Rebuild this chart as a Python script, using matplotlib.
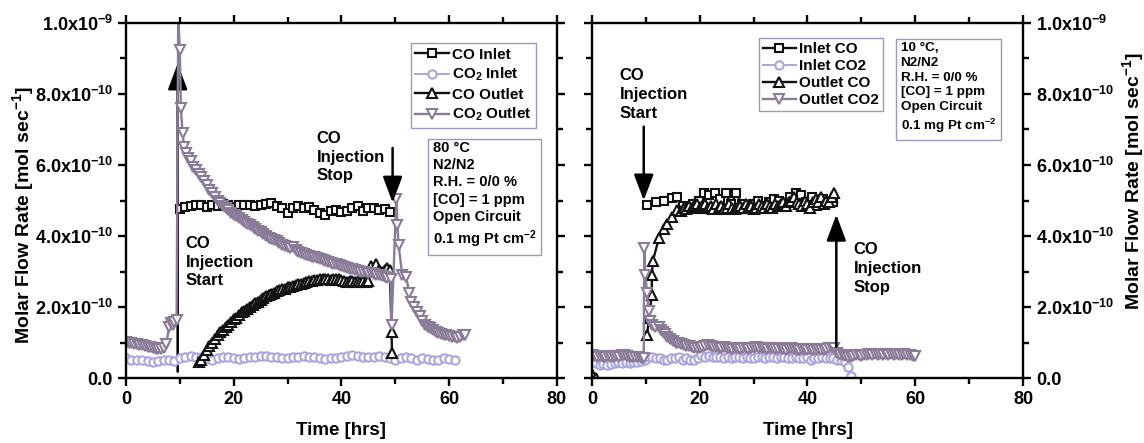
import numpy as np
import matplotlib
matplotlib.use("Agg")
import matplotlib.pyplot as plt
from matplotlib.ticker import FixedLocator, MultipleLocator

plt.rcParams['font.family'] = ['Liberation Sans', 'DejaVu Sans']
plt.rcParams['font.weight'] = 'bold'
plt.rcParams['mathtext.fontset'] = 'custom'
plt.rcParams['mathtext.rm'] = 'Liberation Sans:bold'
plt.rcParams['mathtext.it'] = 'Liberation Sans:bold'
plt.rcParams['mathtext.bf'] = 'Liberation Sans:bold'

SCALE = 1e-10  # values below are in units of 1e-10 mol/s

# ---------------- Left panel (80 °C) ----------------
L_co_in_x = [10.0, 11.0, 12.0, 13.0, 14.0, 15.0, 16.0, 17.0, 18.0, 19.0, 20.0, 21.0, 22.0, 23.0, 24.0,
             25.0, 26.0, 27.0, 28.0, 29.0, 30.0, 31.0, 32.0, 33.0, 34.0, 35.0, 36.0, 37.0, 38.0, 39.0,
             40.0, 41.0, 42.0, 43.0, 44.0, 45.0, 46.0, 47.0, 48.0, 49.0]
L_co_in_y = [4.75, 4.82, 4.85, 4.88, 4.86, 4.83, 4.88, 4.85, 4.90, 4.86, 4.82, 4.88, 4.86, 4.88, 4.85,
             4.87, 4.90, 4.93, 4.85, 4.80, 4.65, 4.80, 4.85, 4.80, 4.82, 4.72, 4.65, 4.58, 4.70, 4.72,
             4.68, 4.70, 4.78, 4.85, 4.70, 4.78, 4.80, 4.72, 4.75, 4.68]

L_co2_in_x = [0, 1, 2, 3, 4, 5, 6, 7, 8, 9, 10, 11, 12, 13, 14, 15, 16, 17, 18, 19, 20, 21, 22, 23, 24,
              25, 26, 27, 28, 29, 30, 31, 32, 33, 34, 35, 36, 37, 38, 39, 40, 41, 42, 43, 44, 45, 46,
              47, 48, 49, 50, 51, 52, 53, 54, 55, 56, 57, 58, 59, 60, 61]
L_co2_in_y = [0.55, 0.52, 0.50, 0.50, 0.47, 0.45, 0.48, 0.52, 0.50, 0.48, 0.55, 0.60, 0.62, 0.60, 0.58,
              0.55, 0.52, 0.55, 0.60, 0.58, 0.55, 0.53, 0.55, 0.58, 0.60, 0.62, 0.63, 0.60, 0.58, 0.55,
              0.57, 0.60, 0.58, 0.62, 0.60, 0.58, 0.55, 0.53, 0.55, 0.57, 0.60, 0.62, 0.65, 0.62, 0.60,
              0.58, 0.60, 0.62, 0.58, 0.55, 0.50, 0.55, 0.58, 0.55, 0.52, 0.55, 0.53, 0.50, 0.52, 0.55,
              0.53, 0.52]

L_co_out_x = [13.5, 14.0, 14.5, 15.0, 15.5, 16.0, 16.5, 17.0, 17.5, 18.0, 18.5, 19.0, 19.5, 20.0, 20.5,
              21.0, 21.5, 22.0, 22.5, 23.0, 23.5, 24.0, 24.5, 25.0, 25.5, 26.0, 26.5, 27.0, 27.5, 28.0,
              28.5, 29.0, 29.5, 30.0, 30.5, 31.0, 31.5, 32.0, 32.5, 33.0, 33.5, 34.0, 34.5, 35.0, 35.5,
              36.0, 36.5, 37.0, 37.5, 38.0, 38.5, 39.0, 39.5, 40.0, 40.5, 41.0, 41.5, 42.0, 42.5, 43.0,
              43.5, 44.0, 44.5, 45.0, 45.5, 46.0, 46.5, 47.0, 47.5, 48.0, 48.5, 49.0, 49.3, 49.4]
L_co_out_y = [0.45, 0.50, 0.65, 0.80, 0.90, 1.00, 1.10, 1.20, 1.30, 1.35, 1.45, 1.50, 1.58, 1.65, 1.70,
              1.78, 1.85, 1.90, 1.95, 2.00, 2.05, 2.10, 2.15, 2.20, 2.25, 2.30, 2.35, 2.38, 2.40, 2.45,
              2.48, 2.50, 2.52, 2.55, 2.57, 2.60, 2.62, 2.64, 2.66, 2.68, 2.70, 2.72, 2.73, 2.75, 2.76,
              2.78, 2.80, 2.80, 2.78, 2.75, 2.78, 2.80, 2.78, 2.75, 2.72, 2.70, 2.72, 2.72, 2.70, 2.72,
              2.70, 2.72, 2.70, 2.72, 3.15, 3.10, 3.20, 3.05, 3.00, 3.05, 3.10, 3.05, 1.30, 0.70]

L_co2_out_x = [0.0, 0.5, 1.0, 1.5, 2.0, 2.5, 3.0, 3.5, 4.0, 4.5, 5.0, 5.5, 6.0, 6.5, 7.0, 7.5, 8.0, 8.3,
               8.7, 9.0, 9.4, 9.7, 10.0, 10.2, 10.5, 10.8, 11.2, 11.6, 12.0, 12.5, 13.0, 13.5, 14.0,
               14.5, 15.0, 15.5, 16.0, 16.5, 17.0, 17.5, 18.0, 18.5, 19.0, 19.5, 20.0, 20.5, 21.0,
               21.5, 22.0, 22.5, 23.0, 23.5, 24.0, 24.5, 25.0, 25.5, 26.0, 26.5, 27.0, 27.5, 28.0,
               28.5, 29.0, 29.5, 30.0, 30.5, 31.0, 31.5, 32.0, 32.5, 33.0, 33.5, 34.0, 34.5, 35.0,
               35.5, 36.0, 36.5, 37.0, 37.5, 38.0, 38.5, 39.0, 39.5, 40.0, 40.5, 41.0, 41.5, 42.0,
               42.5, 43.0, 43.5, 44.0, 44.5, 45.0, 45.5, 46.0, 46.5, 47.0, 47.5, 48.0, 48.5, 49.2,
               49.3, 50.2, 50.4, 50.6, 51.3, 52.0, 52.6, 53.0, 53.5, 54.0, 54.5, 55.0, 55.5, 56.0,
               56.5, 57.0, 57.5, 58.0, 58.5, 59.0, 59.5, 60.0, 60.5, 61.0, 61.5, 62.0, 62.5, 63.0]
L_co2_out_y = [1.02, 1.00, 0.98, 0.96, 0.95, 0.93, 0.92, 0.90, 0.88, 0.86, 0.84, 0.83, 0.82, 0.82, 0.84,
               0.95, 1.45, 1.55, 1.50, 1.58, 1.62, 10.2, 9.25, 7.6, 6.9, 6.5, 6.35, 6.2, 6.1, 5.95,
               5.85, 5.75, 5.65, 5.55, 5.45, 5.3, 5.2, 5.1, 5.0, 4.92, 4.85, 4.78, 4.72, 4.65, 4.6,
               4.55, 4.5, 4.45, 4.4, 4.35, 4.3, 4.25, 4.2, 4.15, 4.1, 4.05, 4.0, 3.95, 3.92, 3.88,
               3.85, 3.8, 3.75, 3.72, 3.68, 3.65, 3.7, 3.6, 3.55, 3.52, 3.5, 3.47, 3.45, 3.42, 3.4,
               3.37, 3.35, 3.32, 3.3, 3.27, 3.25, 3.22, 3.2, 3.18, 3.15, 3.12, 3.1, 3.08, 3.06, 3.04,
               3.02, 3.0, 2.99, 2.98, 2.97, 2.95, 2.93, 2.91, 2.9, 2.88, 2.85, 2.83, 2.8,
               1.50, 5.05, 4.3, 3.75, 2.9, 2.85, 2.4, 2.15, 2.0, 1.85, 1.75, 1.6, 1.5, 1.45,
               1.4, 1.35, 1.3, 1.28, 1.25, 1.22, 1.2, 1.18, 1.15, 1.15, 1.12, 1.15, 1.2, 1.22]

# ---------------- Right panel (10 °C) ----------------
R_co_in_x = [10.2, 11.8, 13.3, 14.8, 15.8, 16.8, 17.8, 18.8, 19.8, 20.8, 21.8, 22.8, 23.8, 24.8, 25.8,
             26.8, 27.8, 28.8, 29.8, 30.8, 31.8, 32.8, 33.8, 34.8, 35.8, 36.8, 37.8, 38.8, 39.8, 40.8,
             41.8, 42.8, 43.8, 44.8]
R_co_in_y = [4.87, 4.97, 5.0, 5.06, 5.1, 4.85, 4.8, 4.9, 5.0, 5.2, 5.15, 5.2, 5.05, 5.2,
             4.9, 5.2, 4.9, 4.75, 4.9, 5.0, 4.85, 4.95, 5.05, 5.0, 4.9, 5.1, 5.2, 5.15, 4.95,
             5.1, 4.85, 5.05, 4.95, 4.95]

R_co2_in_x = [0.0, 0.7, 1.4, 2.1, 2.8, 3.5, 4.2, 4.9, 5.6, 6.3, 7.0, 7.7, 8.4, 9.1, 9.8, 10.5, 11.2,
              11.9, 12.6, 13.3, 14.0, 14.7, 15.4, 16.1, 16.8, 17.5, 18.2, 18.9, 19.6, 20.3, 21.0,
              21.7, 22.4, 23.1, 23.8, 24.5, 25.2, 25.9, 26.6, 27.3, 28.0, 28.7, 29.4, 30.1, 30.8,
              31.5, 32.2, 32.9, 33.6, 34.3, 35.0, 35.7, 36.4, 37.1, 37.8, 38.5, 39.2, 39.9, 40.6,
              41.3, 42.0, 42.7, 43.4, 44.1, 44.8, 45.5, 46.2, 46.9, 47.6, 48.0]
R_co2_in_y = [0.55, 0.42, 0.38, 0.40, 0.38, 0.40, 0.42, 0.45, 0.42, 0.45, 0.43, 0.45, 0.45, 0.48, 0.50,
              0.60, 0.58, 0.55, 0.55, 0.52, 0.52, 0.55, 0.55, 0.60, 0.52, 0.55, 0.50, 0.52, 0.55, 0.65,
              0.60, 0.62, 0.58, 0.60, 0.58, 0.55, 0.58, 0.55, 0.58, 0.60, 0.55, 0.58, 0.55, 0.55, 0.60,
              0.58, 0.55, 0.60, 0.58, 0.55, 0.58, 0.60, 0.55, 0.55, 0.58, 0.55, 0.55, 0.58, 0.52, 0.55,
              0.55, 0.58, 0.55, 0.55, 0.55, 0.50, 0.50, 0.45, 0.30, 0.05]

R_co_out_x = [0.0, 0.8, np.nan, 10.2, 10.6, 11.1, 11.1, 11.3, 12.4, 13.3, 14.0, 14.8, 15.8,
              16.5, 17.0, 17.5, 18.0, 18.5, 19.0, 19.5, 20.0, 20.5, 21.0, 21.5, 22.0,
              22.5, 23.0, 23.5, 24.0, 24.5, 25.0, 25.5, 26.0, 26.5, 27.0, 27.5, 28.0, 28.5, 29.0,
              29.5, 30.0, 30.5, 31.0, 31.5, 32.0, 32.5, 33.0, 33.5, 34.0, 34.5, 35.0, 35.5, 36.0,
              36.5, 37.0, 37.5, 38.0, 38.5, 39.0, 39.5, 40.0, 40.5, 41.0, 41.5, 42.0, 42.5, 43.0,
              43.5, 44.0, 44.5, 44.9]
R_co_out_y = [0.12, 0.0, np.nan, 1.2, 1.7, 2.35, 2.9, 3.3, 3.93, 4.2, 4.35, 4.54, 4.73,
              4.7, 4.8, 4.75, 4.85, 4.8, 4.85, 4.9, 4.8, 4.85, 4.9, 4.8, 4.85,
              4.75, 4.9, 4.8, 4.85, 4.75, 4.8, 4.9, 4.8, 4.75, 4.8, 4.85, 4.8, 4.9, 4.8,
              4.85, 4.75, 4.8, 4.9, 4.85, 4.8, 4.9, 4.85, 4.8, 4.9, 4.85, 4.9, 4.95, 4.85,
              4.95, 5.0, 5.1, 4.95, 4.9, 4.85, 5.0, 4.9, 4.8, 4.95, 5.05, 4.95, 5.1, 4.9,
              5.0, 4.95, 5.1, 5.2]

R_co2_out_x = [0.0, 0.5, 1.0, 1.5, 2.0, 2.5, 3.0, 3.5, 4.0, 4.5, 5.0, 5.5, 6.0, 6.5, 7.0, 7.5, 8.0,
               8.5, 9.0, 9.5, 9.6, 9.7, 9.9, 10.2, 10.5, 10.8, 11.2, 11.7, 12.4, 12.8, 13.2, 13.6,
               14.0, 14.5, 15.0, 15.5, 16.0, 16.5, 17.0, 17.5, 18.0, 18.5, 19.0, 19.5, 20.0, 20.5,
               21.0, 21.5, 22.0, 22.5, 23.0, 23.5, 24.0, 24.5, 25.0, 25.5, 26.0, 26.5, 27.0, 27.5,
               28.0, 28.5, 29.0, 29.5, 30.0, 30.5, 31.0, 31.5, 32.0, 32.5, 33.0, 33.5, 34.0, 34.5,
               35.0, 35.5, 36.0, 36.5, 37.0, 37.5, 38.0, 38.5, 39.0, 39.5, 40.0, 40.5, 41.0, 41.5,
               42.0, 42.5, 43.0, 43.5, 44.0, 44.5, 45.0, 45.5, 46.0, 46.5, 47.0, 47.5, 48.0, 48.5,
               49.0, 49.5, 50.0, 50.5, 51.0, 51.5, 52.0, 52.5, 53.0, 53.5, 54.0, 54.5, 55.0, 55.5,
               56.0, 56.5, 57.0, 57.5, 58.0, 58.5, 59.0, 59.5, 60.0]
R_co2_out_y = [0.65, 0.62, 0.60, 0.62, 0.60, 0.60, 0.62, 0.60, 0.60, 0.62, 0.60, 0.65, 0.65, 0.62, 0.60,
               0.60, 0.60, 0.58, 0.55, 0.55, 0.55, 3.65, 2.9, 2.4, 1.9, 1.6, 1.5, 1.45, 1.45, 1.35,
               1.3, 1.25, 1.15, 1.1, 1.05, 1.0, 0.98, 0.95, 0.92, 0.9, 0.9, 0.88, 0.85, 0.85, 0.85,
               0.88, 0.9, 0.92, 0.9, 0.88, 0.88, 0.85, 0.85, 0.88, 0.85, 0.85, 0.82, 0.85, 0.85, 0.82,
               0.85, 0.85, 0.82, 0.85, 0.85, 0.88, 0.85, 0.85, 0.85, 0.82, 0.85, 0.85, 0.82, 0.82,
               0.85, 0.82, 0.8, 0.82, 0.85, 0.82, 0.8, 0.8, 0.82, 0.8, 0.8, 0.82, 0.8, 0.8,
               0.82, 0.8, 0.8, 0.82, 0.85, 0.85, 0.85, 0.7, 0.65, 0.65, 0.62, 0.6, 0.6, 0.62,
               0.65, 0.65, 0.62, 0.65, 0.65, 0.68, 0.65, 0.68, 0.65, 0.68, 0.65, 0.68, 0.65, 0.68,
               0.65, 0.68, 0.65, 0.65, 0.68, 0.65, 0.65, 0.62, 0.62]

y_ticks = [0, 2, 4, 6, 8, 10]
y_tick_labels = ['0.0', '2.0x10$^{-10}$', '4.0x10$^{-10}$', '6.0x10$^{-10}$', '8.0x10$^{-10}$', '1.0x10$^{-9}$']
x_ticks = [0, 20, 40, 60, 80]

left_labels = ['CO Inlet', 'CO$_2$ Inlet', 'CO Outlet', 'CO$_2$ Outlet']
right_labels = ['Inlet CO', 'Inlet CO2', 'Outlet CO', 'Outlet CO2']
left_info = '80 °C\nN2/N2\nR.H. = 0/0 %\n[CO] = 1 ppm\nOpen Circuit\n0.1 mg Pt cm$^{-2}$'
right_info = '10 °C,\nN2/N2\nR.H. = 0/0 %\n[CO] = 1 ppm\nOpen Circuit\n0.1 mg Pt cm$^{-2}$'
anno_start = 'CO\nInjection\nStart'
anno_stop = 'CO\nInjection\nStop'
ylab = 'Molar Flow Rate [mol sec$^{-1}$]'

C_BLACK = '#111111'
C_CO2_IN = '#aaa6dc'
C_CO2_OUT = '#8a7b98'
LEG_EDGE = '#9a9ac0'

fig = plt.figure(figsize=(11.44, 4.43), dpi=100)
axL = fig.add_axes([0.1101, 0.1467, 0.3767, 0.8014])
axR = fig.add_axes([0.5175, 0.1467, 0.3767, 0.8014])

def sc(v):
    return [a * SCALE for a in v]

def draw_series(ax, series, labels):
    handles = []
    styles = [dict(color=C_BLACK, marker='s', ms=6, lw=1.7),
              dict(color=C_CO2_IN, marker='o', ms=6, lw=1.4),
              dict(color=C_BLACK, marker='^', ms=7, lw=1.7),
              dict(color=C_CO2_OUT, marker='v', ms=7, lw=1.7)]
    for (xs, ys), st, lab in zip(series, styles, labels):
        h, = ax.plot(xs, sc(ys), linestyle='-', lw=st['lw'], color=st['color'], marker=st['marker'],
                     ms=st['ms'], mfc='white', mec=st['color'], mew=1.5, label=lab)
        handles.append(h)
    return handles

def style_axes(ax, side):
    ax.set_xlim(0, 80)
    ax.set_ylim(0, 1.0e-9)
    for sp in ax.spines.values():
        sp.set_linewidth(1.7)
        sp.set_color('black')
    ax.xaxis.set_major_locator(FixedLocator(x_ticks))
    ax.xaxis.set_minor_locator(MultipleLocator(10))
    ax.yaxis.set_major_locator(FixedLocator([v * SCALE for v in y_ticks]))
    ax.yaxis.set_minor_locator(MultipleLocator(1e-10))
    ax.set_xticklabels([str(v) for v in x_ticks])
    ax.tick_params(which='both', direction='out', top=True, right=True, left=True, bottom=True,
                   width=1.7, labelsize=13, color='black')
    ax.tick_params(which='major', length=6)
    ax.tick_params(which='minor', length=4)
    ax.set_xlabel('Time [hrs]', fontsize=13.5, fontweight='bold', labelpad=10)
    if side == 'left':
        ax.set_yticklabels(y_tick_labels)
        ax.set_ylabel(ylab, fontsize=14, fontweight='bold')
        ax.yaxis.label.set_va('center')
        ax.yaxis.set_label_coords(-0.238, 0.46)
    else:
        ax.yaxis.tick_right()
        ax.tick_params(which='both', left=True, right=True, direction='out')
        ax.yaxis.set_label_position('right')
        ax.set_yticklabels(y_tick_labels)
        ax.set_ylabel(ylab, fontsize=14, fontweight='bold')
        ax.yaxis.label.set_va('center')
        ax.yaxis.set_label_coords(1.255, 0.555)
    for lab in ax.get_xticklabels() + ax.get_yticklabels():
        lab.set_fontweight('bold')

arrow_kw = dict(arrowstyle='-|>,head_length=0.8,head_width=0.3', color='black', lw=1.8,
                mutation_scale=20, shrinkA=0, shrinkB=0)

# ----- left -----
hL = draw_series(axL, [(L_co_in_x, L_co_in_y), (L_co2_in_x, L_co2_in_y),
                       (L_co_out_x, L_co_out_y), (L_co2_out_x, L_co2_out_y)], left_labels)
style_axes(axL, 'left')
axL.annotate('', xy=(9.6, 8.86e-10), xytext=(9.6, 0.18e-10), arrowprops=arrow_kw, zorder=1)
axL.annotate('', xy=(49.5, 4.94e-10), xytext=(49.5, 6.48e-10), arrowprops=arrow_kw, zorder=5)
axL.text(11.1, 4.0e-10, anno_start, fontsize=12, fontweight='bold', va='top', ha='left', linespacing=1.3)
axL.text(35.4, 6.95e-10, anno_stop, fontsize=12, fontweight='bold', va='top', ha='left', linespacing=1.3)
legL = axL.legend(handles=hL, loc='upper left', bbox_to_anchor=(0.661, 0.943), fontsize=11,
                  frameon=True, fancybox=False, edgecolor=LEG_EDGE, framealpha=1, borderpad=0.3,
                  handlelength=2.2, handletextpad=0.2, labelspacing=0.28, borderaxespad=0)
legL.get_frame().set_linewidth(1.0)
for t in legL.get_texts():
    t.set_fontweight('bold')
axL.text(0.712, 0.668, left_info, transform=axL.transAxes, fontsize=10.5, fontweight='bold',
         va='top', ha='left', linespacing=1.3,
         bbox=dict(boxstyle='square,pad=0.35', fc='white', ec=LEG_EDGE, lw=1.0))

# ----- right -----
hR = draw_series(axR, [(R_co_in_x, R_co_in_y), (R_co2_in_x, R_co2_in_y),
                       (R_co_out_x, R_co_out_y), (R_co2_out_x, R_co2_out_y)], right_labels)
style_axes(axR, 'right')
axR.annotate('', xy=(9.6, 5.0e-10), xytext=(9.6, 7.08e-10), arrowprops=arrow_kw, zorder=5)
axR.annotate('', xy=(45.35, 4.6e-10), xytext=(45.35, 0.88e-10), arrowprops=arrow_kw, zorder=5)
axR.text(5.1, 8.72e-10, anno_start, fontsize=12, fontweight='bold', va='top', ha='left', linespacing=1.3)
axR.text(48.6, 3.82e-10, anno_stop, fontsize=12, fontweight='bold', va='top', ha='left', linespacing=1.3)
legR = axR.legend(handles=hR, loc='upper left', bbox_to_anchor=(0.387, 0.957), fontsize=11,
                  frameon=True, fancybox=False, edgecolor=LEG_EDGE, framealpha=1, borderpad=0.25,
                  handlelength=2.2, handletextpad=0.2, labelspacing=0.2, borderaxespad=0)
legR.get_frame().set_linewidth(1.0)
for t in legR.get_texts():
    t.set_fontweight('bold')
axR.text(0.716, 0.946, right_info, transform=axR.transAxes, fontsize=9.7, fontweight='bold',
         va='top', ha='left', linespacing=1.3,
         bbox=dict(boxstyle='square,pad=0.35', fc='white', ec=LEG_EDGE, lw=1.0))

fig.savefig('out.png', dpi=100)
